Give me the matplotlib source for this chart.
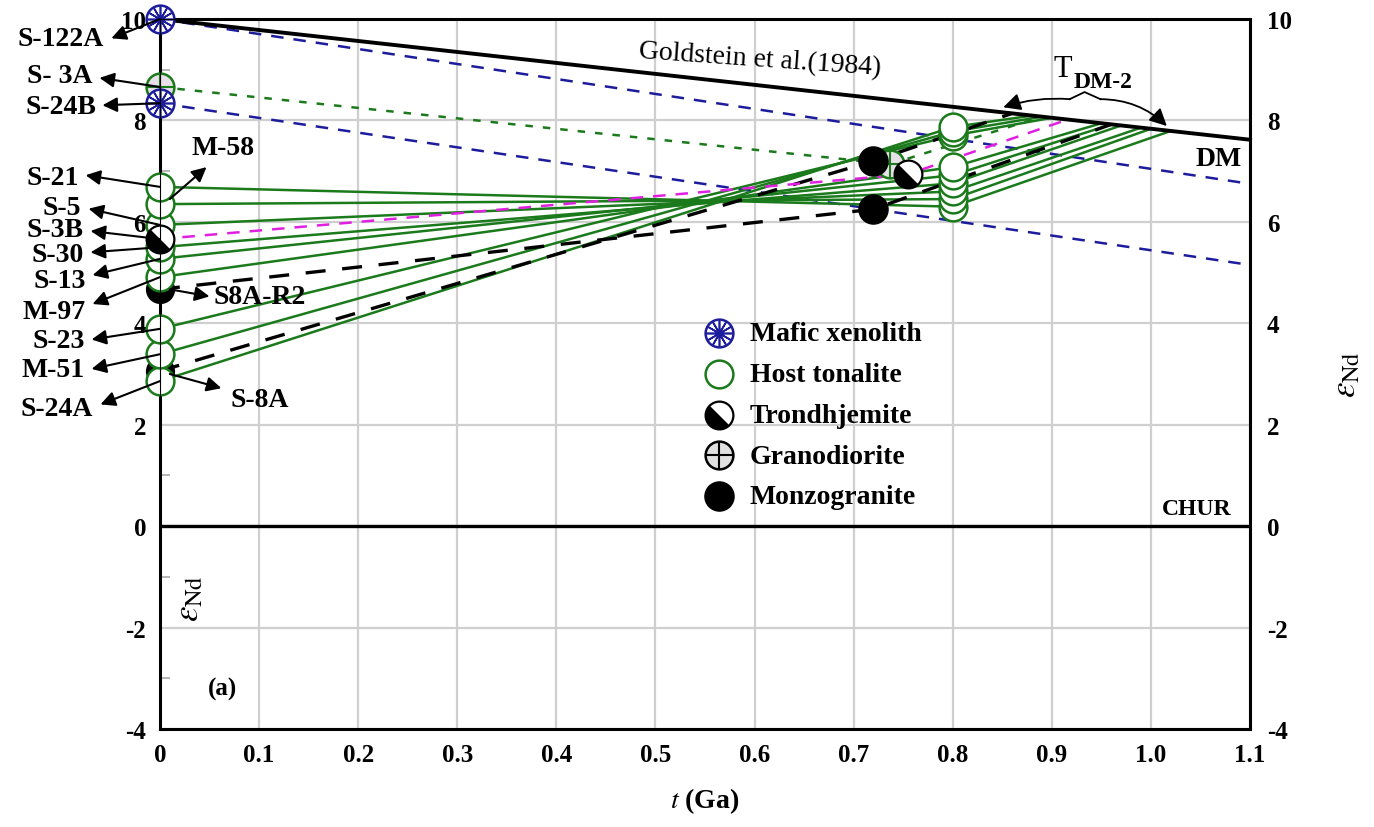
import numpy as np
import matplotlib
matplotlib.use('Agg')
import matplotlib.pyplot as plt
from matplotlib.legend_handler import HandlerTuple

plt.rcParams['font.family'] = 'Liberation Serif'
plt.rcParams['mathtext.fontset'] = 'stix'
plt.rcParams['axes.unicode_minus'] = False

# depleted mantle line (Goldstein et al., 1984)
dm_t = [0.0, 1.1]
dm_eps = [10.0, 7.62]

# host tonalite: eNd(0), eNd(t) at 0.8 Ga, T_DM-2
ton_names = ['S-21', 'M-58', 'S-5', 'S-30', 'S-13', 'M-97', 'S-23', 'M-51', 'S-24A']
ton_eps0 = [6.69, 6.35, 5.94, 5.50, 5.27, 4.91, 3.89, 3.39, 2.86]
ton_age = [0.8] * 9
ton_epst = [6.30, 6.45, 6.60, 6.76, 6.92, 7.08, 7.70, 7.78, 7.87]
ton_tdm = [1.02, 1.00, 0.99, 0.97, 0.96, 0.95, 0.90, 0.89, 0.88]

# monzogranite
mz_names = ['S8A-R2', 'S-8A']
mz_eps0 = [4.67, 3.06]
mz_age = [0.72, 0.72]
mz_epst = [6.25, 7.20]
mz_tdm = [0.96, 0.86]

# trondhjemite
tr_names = ['S-3B']
tr_eps0 = [5.66]
tr_age = [0.755]
tr_epst = [6.94]
tr_tdm = [0.916]

# granodiorite
gd_names = ['S- 3A']
gd_eps0 = [8.66]
gd_age = [0.737]
gd_epst = [7.14]
gd_tdm = [0.89]

# mafic xenolith (eNd now and at 1.1 Ga)
mf_names = ['S-122A', 'S-24B']
mf_eps0 = [10.0, 8.34]
mf_eps11 = [6.75, 5.15]


def dm(t):
    return np.interp(t, dm_t, dm_eps)


fig = plt.figure(figsize=(13.74, 8.28), dpi=100)
ax = fig.add_axes([0.1164, 0.1184, 0.7934, 0.8574])
ax.set_xlim(0, 1.1)
ax.set_ylim(-4, 10)

green = '#1b7a1b'
navy = '#1c1c9c'

# grid
ax.set_xticks(np.arange(0, 1.11, 0.1))
ax.set_yticks(np.arange(-4, 10.1, 2))
ax.set_yticks(np.arange(-3, 10, 2), minor=True)
ax.grid(True, color='#cfcfcf', lw=1.6, zorder=0)
ax.set_axisbelow(True)
ax.tick_params(which='major', length=0, labelsize=18, pad=10)
ax.tick_params(which='minor', direction='in', length=7, color='#aaaaaa', width=1.2)
ax.set_xticklabels(['0', '0.1', '0.2', '0.3', '0.4', '0.5', '0.6', '0.7', '0.8', '0.9', '1.0', '1.1'])
for lab in ax.get_xticklabels() + ax.get_yticklabels():
    lab.set_fontweight('bold')
for s in ax.spines.values():
    s.set_linewidth(2.2)

ax2 = ax.twinx()
ax2.set_ylim(-4, 10)
ax2.set_yticks(np.arange(-4, 10.1, 2))
ax2.tick_params(length=0, labelsize=18, pad=12)
for lab in ax2.get_yticklabels():
    lab.set_fontweight('bold')
ax2.set_ylabel(r'$\varepsilon_{\mathrm{Nd}}$', fontsize=25, rotation=90, labelpad=28)

# DM and CHUR
ax.plot(dm_t, dm_eps, color='black', lw=2.8, zorder=4, clip_on=False)
ax.axhline(0, color='black', lw=2.4, zorder=4)

# mafic evolution lines
for e0, e1 in zip(mf_eps0, mf_eps11):
    ax.plot([0, 1.1], [e0, e1], color=navy, lw=1.8, ls=(0, (5, 4)), zorder=2)


def two_stage(e0, age, et, tdm, **kw):
    ax.plot([0, age, tdm], [e0, et, dm(tdm)], **kw)


for e0, a, et, td in zip(ton_eps0, ton_age, ton_epst, ton_tdm):
    two_stage(e0, a, et, td, color=green, lw=1.8, zorder=2)
for e0, a, et, td in zip(mz_eps0, mz_age, mz_epst, mz_tdm):
    two_stage(e0, a, et, td, color='black', lw=2.4, ls=(0, (6, 5)), zorder=2)
for e0, a, et, td in zip(tr_eps0, tr_age, tr_epst, tr_tdm):
    two_stage(e0, a, et, td, color='#e020e0', lw=1.8, ls=(0, (5, 4)), zorder=2)
for e0, a, et, td in zip(gd_eps0, gd_age, gd_epst, gd_tdm):
    two_stage(e0, a, et, td, color=green, lw=1.8, ls=(0, (3, 4)), zorder=2)

ms = 400
# half disc (lower-left half) for the trondhjemite symbol
ang = np.radians(np.linspace(135, 315, 40))
half_disc = np.column_stack([np.cos(ang), np.sin(ang)])


def trond(x, y, zorder, size=ms, clip=True):
    a = ax.scatter(x, y, s=size, facecolor='white', edgecolor='black', lw=1.6, zorder=zorder,
                   clip_on=clip)
    b = ax.scatter(x, y, s=size, marker=half_disc, color='black', lw=0, zorder=zorder,
                   clip_on=clip)
    return a, b


# markers: monzogranite below tonalite at t = 0
ax.scatter([0] * len(mz_eps0), mz_eps0, s=ms, c='black', zorder=5, clip_on=False)
order = np.argsort(ton_eps0)
ax.scatter(np.zeros(len(order)), np.array(ton_eps0)[order], s=ms, facecolor='white',
           edgecolor=green, lw=1.8, zorder=6, clip_on=False)
order = np.argsort(ton_epst)
ax.scatter(np.array(ton_age)[order], np.array(ton_epst)[order], s=ms, facecolor='white',
           edgecolor=green, lw=1.8, zorder=6)
trond(tr_age, tr_epst, 8)
trond([0] * len(tr_eps0), tr_eps0, 8, clip=False)
# granodiorite
ax.scatter([0] + gd_age, gd_eps0 + gd_epst, s=ms, facecolor='#e8e0e8', edgecolor=green, lw=1.8,
           zorder=6, clip_on=False)
ax.scatter([0] + gd_age, gd_eps0 + gd_epst, s=ms, marker='+', color=green, lw=1.5, zorder=6,
           clip_on=False)
# monzogranite at crystallization age
ax.scatter(mz_age, mz_epst, s=ms * 1.1, c='black', zorder=7)
# mafic xenolith
ax.scatter([0] * 2, mf_eps0, s=ms, facecolor='white', edgecolor=navy, lw=1.8, zorder=7, clip_on=False)
ax.scatter([0] * 2, mf_eps0, s=ms * 0.8, marker=(12, 2, 0), color=navy, lw=1.2, zorder=7,
           clip_on=False)

# sample labels: text position, alignment, arrow tail, arrow tip
labels = [
    ('S-122A', (-0.057, 9.62), 'right', (0.0, 10.0), (-0.049, 9.62)),
    ('S- 3A', (-0.068, 8.88), 'right', (0.0, 8.66), (-0.061, 8.84)),
    ('S-24B', (-0.064, 8.28), 'right', (0.0, 8.34), (-0.058, 8.3)),
    ('M-58', (0.032, 7.46), 'left', (0.01, 6.45), (0.047, 7.08)),
    ('S-21', (-0.082, 6.88), 'right', (0.0, 6.69), (-0.075, 6.92)),
    ('S-5', (-0.08, 6.29), 'right', (0.0, 5.94), (-0.072, 6.26)),
    ('S-3B', (-0.077, 5.84), 'right', (0.0, 5.66), (-0.07, 5.82)),
    ('S-30', (-0.077, 5.35), 'right', (0.0, 5.5), (-0.07, 5.4)),
    ('S-13', (-0.075, 4.85), 'right', (0.0, 5.27), (-0.068, 4.95)),
    ('M-97', (-0.075, 4.24), 'right', (0.0, 4.91), (-0.068, 4.38)),
    ('S8A-R2', (0.054, 4.53), 'left', (0.01, 4.67), (0.05, 4.53)),
    ('S-23', (-0.076, 3.66), 'right', (0.0, 3.89), (-0.069, 3.68)),
    ('M-51', (-0.076, 3.08), 'right', (0.0, 3.39), (-0.069, 3.1)),
    ('S-24A', (-0.068, 2.32), 'right', (0.0, 2.86), (-0.06, 2.4)),
    ('S-8A', (0.071, 2.5), 'left', (0.01, 3.0), (0.062, 2.72)),
]
for name, pos, ha, tail, tip in labels:
    ax.text(pos[0], pos[1], name, ha=ha, va='center', fontsize=20, fontweight='bold',
            clip_on=False, zorder=9)
    ax.annotate('', xy=tip, xytext=tail, zorder=9, annotation_clip=False,
                arrowprops=dict(arrowstyle='-|>', color='black', lw=1.5, mutation_scale=22,
                                shrinkA=0, shrinkB=0))

# T_DM-2 bracket
ax.annotate('', xy=(0.851, 8.26), xytext=(0.918, 8.42), annotation_clip=False,
            arrowprops=dict(arrowstyle='-|>', color='black', lw=1.3, mutation_scale=26,
                            shrinkA=0, shrinkB=0, connectionstyle='arc3,rad=0.1'))
ax.annotate('', xy=(1.016, 7.89), xytext=(0.949, 8.42), annotation_clip=False,
            arrowprops=dict(arrowstyle='-|>', color='black', lw=1.3, mutation_scale=26,
                            shrinkA=0, shrinkB=0, connectionstyle='arc3,rad=-0.2'))
ax.plot([0.918, 0.933, 0.949], [8.42, 8.56, 8.42], color='black', lw=1.3)
ax.text(0.902, 9.02, 'T', fontsize=22, ha='left', va='center')
ax.text(0.922, 8.76, 'DM-2', fontsize=17, fontweight='bold', ha='left', va='center')

ax.text(0.605, 9.2, 'Goldstein et al.(1984)', fontsize=20, rotation=-4, ha='center', va='center')
ax.text(1.068, 7.24, 'DM', fontsize=20, fontweight='bold', ha='center', va='center')
ax.text(1.046, 0.34, 'CHUR', fontsize=17, fontweight='bold', ha='center', va='center')
ax.text(0.063, -3.2, '(a)', fontsize=18, fontweight='bold', ha='center', va='center')
ax.text(0.03, -1.4, r'$\varepsilon_{\mathrm{Nd}}$', fontsize=25, rotation=90, ha='center', va='center')

ax.set_xlabel(r'$\mathit{t}$ (Ga)', fontsize=20, fontweight='bold', labelpad=14)

# legend
h_mafic = (ax.scatter([], [], s=ms, facecolor='white', edgecolor=navy, lw=1.8),
           ax.scatter([], [], s=ms * 0.8, marker=(12, 2, 0), color=navy, lw=1.2))
h_ton = ax.scatter([], [], s=ms, facecolor='white', edgecolor=green, lw=1.8)
h_tr = trond([], [], 1)
h_gd = (ax.scatter([], [], s=ms, facecolor='#e0e0e0', edgecolor='black', lw=1.8),
        ax.scatter([], [], s=ms, marker='+', color='black', lw=1.5))
h_mz = ax.scatter([], [], s=ms * 1.1, c='black')
leg = ax.legend([h_mafic, h_ton, h_tr, h_gd, h_mz],
                ['Mafic xenolith', 'Host tonalite', 'Trondhjemite', 'Granodiorite', 'Monzogranite'],
                handler_map={tuple: HandlerTuple(ndivide=1, pad=0)},
                loc='upper left', bbox_to_anchor=(0.475, 0.61), frameon=False,
                prop={'family': 'Liberation Serif', 'weight': 'bold', 'size': 20},
                labelspacing=0.55, handletextpad=0.5, handlelength=1.2)
leg.set_zorder(10)

fig.savefig('out.png', dpi=100)
